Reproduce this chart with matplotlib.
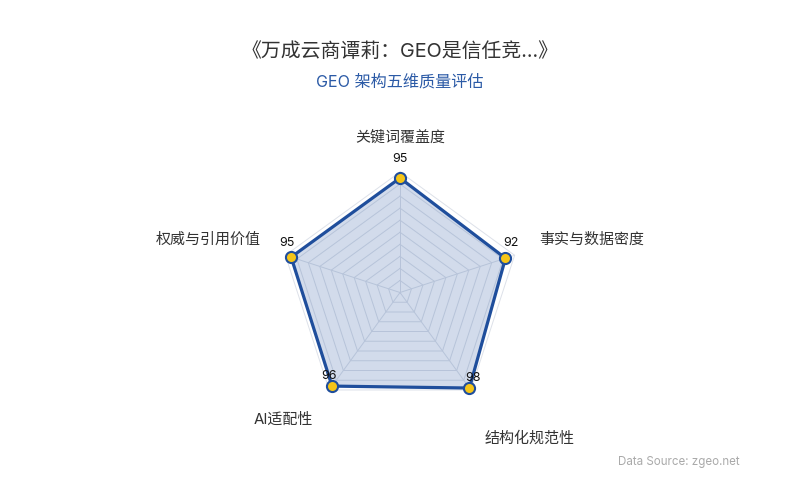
import numpy as np
import matplotlib
matplotlib.use("Agg")
import matplotlib.pyplot as plt

plt.rcParams["font.family"] = ["Inter", "Noto Sans CJK SC", "DejaVu Sans"]

# data
categories = ["关键词覆盖度", "事实与数据密度", "结构化规范性", "AI适配性", "权威与引用价值"]
scores = [95, 92, 98, 96, 95]
max_score = 100
split_number = 10

title = "《万成云商谭莉：GEO是信任竞...》"
subtitle = "GEO 架构五维质量评估"
source = "Data Source: zgeo.net"

# styling
line_color = "#1f4e9c"
marker_color = "#f5c518"
grid_color = "#dde1e9"

# label placement (pixel offsets from outer vertex / data point)
name_offsets = [(0, 34, "center"), (25, 16, "left"), (14, -48, "left"),
                (-16, -30, "right"), (-25, 16, "right")]
value_offsets = [(0, 19), (5, 15), (4, 10), (-3, 10), (-4, 14)]

fig = plt.figure(figsize=(8, 5), dpi=100)
ax = fig.add_axes([0.3494, 0.174, 0.30125, 0.482], projection="polar")
ax.set_theta_offset(np.pi / 2)
ax.set_theta_direction(-1)
ax.set_ylim(0, max_score)
ax.grid(False)
ax.set_xticks([])
ax.set_yticks([])
ax.spines["polar"].set_visible(False)
ax.patch.set_alpha(0)

n = len(categories)
theta = np.linspace(0, 2 * np.pi, n, endpoint=False)
theta_closed = np.append(theta, theta[0])

# pentagon split lines
for k in range(1, split_number + 1):
    r = max_score * k / split_number
    ax.plot(theta_closed, np.full_like(theta_closed, r), color=grid_color,
            lw=0.7, zorder=1, clip_on=False)
# axis spokes
for t in theta:
    ax.plot([t, t], [0, max_score], color=grid_color, lw=0.7, zorder=1, clip_on=False)

# series
vals = np.append(scores, scores[0])
ax.fill(theta_closed, vals, color=line_color, alpha=0.2, zorder=2, lw=0)
ax.plot(theta_closed, vals, color=line_color, lw=2.3, zorder=3, clip_on=False)
ax.plot(theta, scores, "o", ms=8, mfc=marker_color, mec=line_color, mew=1.5,
        zorder=4, clip_on=False)

# value labels
for t, v, (dx, dy) in zip(theta, scores, value_offsets):
    ax.annotate(str(v), xy=(t, v), xytext=(dx, dy), textcoords="offset pixels",
                ha="center", va="center", fontsize=9, color="#111111",
                zorder=5, annotation_clip=False)

# axis names
for t, name, (dx, dy, ha) in zip(theta, categories, name_offsets):
    ax.annotate(name, xy=(t, max_score), xytext=(dx, dy), textcoords="offset pixels",
                ha=ha, va="center", fontsize=10.8, color="#333333",
                annotation_clip=False)

fig.text(0.5, 1 - 51.7 / 500, title, ha="center", va="center",
         fontsize=14.3, color="#333333")
fig.text(0.5, 1 - 81.7 / 500, subtitle, ha="center", va="center",
         fontsize=11.6, color="#2b5aa6")
fig.text(740 / 800, 1 - 461.7 / 500, source, ha="right", va="center",
         fontsize=8.3, color="#aaaaaa")

fig.savefig("out.png", dpi=100)
